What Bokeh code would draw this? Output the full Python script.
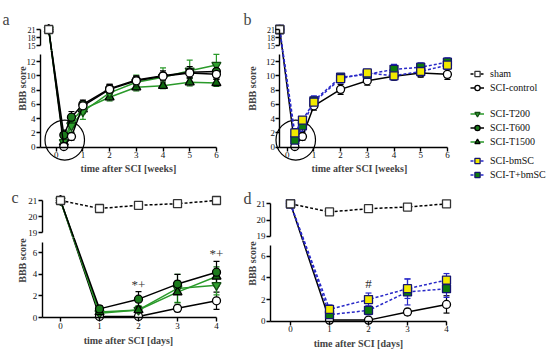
import math
from bokeh.plotting import figure
from bokeh.layouts import row, column
from bokeh.models import Range1d, ColumnDataSource, Whisker, TeeHead, Label, Legend, LegendItem
from bokeh.core.properties import value
from bokeh.embed import file_html
from bokeh.resources import INLINE

FONT = "Liberation Serif"

# ---------------- data ----------------
weeks = [-0.28, 2 / 7, 4 / 7, 1, 2, 3, 4, 5, 6]
days = [0, 1, 2, 3, 4]
week_ticks = [0, 1, 2, 3, 4, 5, 6]
day_ticks = [0, 1, 2, 3, 4]
ab_low_ticks = [0, 2, 4, 6, 8, 10, 12]
ab_high_ticks = [15, 18, 21]
cd_low_ticks = [0, 2, 4, 6]
cd_high_ticks = [19, 20, 21]

sham_week = [21]
sham_week_err = [0]
a_control = [21, 0.1, 1.5, 5.8, 8.1, 9.3, 9.95, 10.4, 10.2]
a_control_err = [0, 0.1, 0.5, 0.6, 0.7, 0.6, 0.5, 0.6, 0.7]
a_t200 = [21, 0.7, 3.0, 5.0, 7.6, 9.1, 9.8, 10.7, 11.5]
a_t200_err = [0, 0.5, 0.9, 1.1, 0.7, 1.0, 1.3, 1.5, 1.5]
a_t600 = [21, 1.7, 4.2, 6.0, 8.2, 9.4, 10.0, 10.5, 10.6]
a_t600_err = [0, 0.7, 0.8, 0.6, 0.6, 0.6, 0.7, 0.8, 0.9]
a_t1500 = [21, 0.7, 3.7, 5.3, 7.0, 8.4, 8.6, 9.1, 9.0]
a_t1500_err = [0, 0.4, 0.8, 0.6, 0.5, 0.5, 0.4, 0.5, 0.5]

b_bmsc = [21, 2.0, 3.8, 6.3, 9.6, 10.4, 10.0, 10.6, 11.5]
b_bmsc_err = [0, 0.6, 0.5, 0.7, 0.6, 0.5, 0.6, 0.7, 0.6]
b_tbmsc = [21, 1.0, 3.0, 6.5, 9.8, 10.2, 10.9, 11.2, 11.9]
b_tbmsc_err = [0, 0.5, 0.8, 0.7, 0.5, 0.6, 0.7, 0.6, 0.6]

c_sham = [21, 20.5, 20.7, 20.8, 21]
c_sham_err = [0, 0.15, 0.12, 0.1, 0.05]
c_control = [21, 0.1, 0.1, 0.85, 1.55]
c_control_err = [0, 0.05, 0.1, 0.3, 0.8]
c_t200 = [21, 0.4, 0.7, 2.7, 3.0]
c_t200_err = [0, 0.2, 0.4, 1.3, 0.9]
c_t600 = [21, 0.8, 1.7, 3.1, 4.2]
c_t600_err = [0, 0.3, 0.7, 0.9, 1.0]
c_t1500 = [21, 0.5, 0.7, 2.35, 3.8]
c_t1500_err = [0, 0.2, 0.3, 1.0, 0.9]

d_bmsc = [21, 1.1, 2.0, 3.0, 3.8]
d_bmsc_err = [0, 0.4, 0.6, 0.9, 0.6]
d_tbmsc = [21, 0.6, 1.0, 2.7, 3.0]
d_tbmsc_err = [0, 0.3, 0.4, 1.2, 0.8]

c_sig_x = [2, 4]
c_sig_text = ["*+", "*+"]
d_sig_x = [2]
d_sig_text = ["#"]

# ---------------- styles ----------------
GREEN = "#2a9a2a"
DKGREEN = "#0f6a0f"
BLUE = "#2828c8"
STY = {
    "sham": dict(marker="square", fill="white", edge="#333333", line="black", dash="3 2", size=8, err="#333333"),
    "control": dict(marker="circle", fill="white", edge="black", line="black", dash="solid", size=8, err="black"),
    "T200": dict(marker="inverted_triangle", fill="#2fa02f", edge="#124a12", line=GREEN, dash="solid", size=9, err=GREEN),
    "T600": dict(marker="circle", fill="#1c7c1c", edge="black", line="black", dash="solid", size=8, err="black"),
    "T1500": dict(marker="triangle", fill=DKGREEN, edge="black", line=GREEN, dash="solid", size=9, err=DKGREEN),
    "bmSC": dict(marker="square", fill="#f2ea00", edge="#141470", line=BLUE, dash="3 2", size=8, err=BLUE),
    "TbmSC": dict(marker="square", fill="#0d7a0d", edge="#141470", line=BLUE, dash="3 2", size=8, err=BLUE),
}

# ---------------- geometry (page pixels) ----------------
A_X = (55.7, 26.7)
B_X = (286.7, 26.7)
C_X = (60.0, 39.0)
D_X = (290.0, 39.0)
AB_HI_Y = (21, 29.0, 16 / 6)
AB_LO_Y = (0, 146.7, 85.7 / 12)
C_HI_Y = (21, 200.0, 16.0)
C_LO_Y = (0, 317.0, 10.78)
D_HI_Y = (21, 203.3, 16.2)
D_LO_Y = (0, 320.7, 10.83)


class Seg:
    """A figure whose frame fills its whole box (l..r, t..b in page pixels)."""

    def __init__(self, l, r, t, b, xm, ym):
        self.l, self.r, self.t, self.b = l, r, t, b
        self.x0px, self.xppu = xm
        self.refv, self.refpx, self.yppu = ym

    def px(self, v):
        return self.refpx - (v - self.refv) * self.yppu

    def yv(self, px):
        return self.refv + (self.refpx - px) / self.yppu

    def xv(self, px):
        return (px - self.x0px) / self.xppu

    def make(self):
        p = figure(width=self.r - self.l, height=self.b - self.t,
                   x_range=Range1d(self.xv(self.l), self.xv(self.r)),
                   y_range=Range1d(self.yv(self.b), self.yv(self.t)),
                   output_backend="svg", toolbar_location=None, title=None,
                   min_border_left=0, min_border_right=0, min_border_top=0, min_border_bottom=0)
        p.outline_line_color = None
        p.grid.visible = False
        p.background_fill_color = "white"
        p.border_fill_color = "white"
        self.p = p
        return p


def style_axis(ax, size="9px"):
    ax.axis_line_width = 1.4
    ax.axis_line_color = "black"
    ax.major_tick_line_width = 1.4
    ax.major_tick_line_color = "black"
    ax.major_tick_in = 0
    ax.major_tick_out = 4
    ax.minor_tick_line_color = None
    ax.major_label_text_font = FONT
    ax.major_label_text_font_size = size
    ax.major_label_text_color = "#111111"
    ax.major_label_standoff = 1


def setup_pair(top, bot, yaxis_x, xmax, xticks, lo_ticks, lo_bounds, hi_ticks, hi_bounds, hi_size):
    tp, bp = top.p, bot.p
    tp.xaxis.visible = False
    tp.yaxis.fixed_location = yaxis_x
    tp.yaxis.ticker = hi_ticks
    tp.yaxis.bounds = hi_bounds
    style_axis(tp.yaxis[0], hi_size)
    bp.xaxis.fixed_location = 0
    bp.yaxis.fixed_location = yaxis_x
    bp.xaxis.ticker = xticks
    bp.yaxis.ticker = lo_ticks
    bp.xaxis.bounds = (yaxis_x, xmax)
    bp.yaxis.bounds = lo_bounds
    style_axis(bp.xaxis[0])
    style_axis(bp.yaxis[0])


def whisk(p, xs, ys, es, color):
    src = ColumnDataSource(dict(base=list(xs), upper=[y + e for y, e in zip(ys, es)],
                                lower=[y - e for y, e in zip(ys, es)]))
    w = Whisker(source=src, base="base", upper="upper", lower="lower", dimension="height",
                line_color=color, line_width=1.2,
                upper_head=TeeHead(size=6, line_color=color, line_width=1.2),
                lower_head=TeeHead(size=6, line_color=color, line_width=1.2))
    p.add_layout(w)


def draw(top, bot, xs, ys, errs, key, low_max):
    st = STY[key]
    n = len(ys)
    xs = xs[:n]
    yb = [y if y <= low_max else bot.yv(top.px(y)) for y in ys]
    yt = [y if y > low_max else top.yv(bot.px(y)) for y in ys]
    if n > 1:
        bot.p.line(xs, yb, line_color=st["line"], line_width=1.5, line_dash=st["dash"])
        top.p.line(xs, yt, line_color=st["line"], line_width=1.5, line_dash=st["dash"])
    lo = [i for i in range(n) if ys[i] <= low_max]
    hi = [i for i in range(n) if ys[i] > low_max]
    for seg, idx in ((bot, lo), (top, hi)):
        ie = [i for i in idx if errs[i] > 0]
        if ie:
            whisk(seg.p, [xs[i] for i in ie], [ys[i] for i in ie], [errs[i] for i in ie], st["err"])
    for seg, idx in ((bot, lo), (top, hi)):
        if idx:
            seg.p.scatter([xs[i] for i in idx], [ys[i] for i in idx], marker=st["marker"],
                          size=st["size"], fill_color=st["fill"], line_color=st["edge"], line_width=1.3)


def img_label(seg, x, y, text, **kw):
    seg.p.add_layout(Label(x=x - seg.l, y=seg.b - y, x_units="screen", y_units="screen",
                           text=text, text_font=FONT, **kw))


# ---------------- panels ----------------
a_top = Seg(0, 240, 0, 50, A_X, AB_HI_Y)
a_bot = Seg(0, 240, 50, 186, A_X, AB_LO_Y)
c_top = Seg(0, 240, 186, 237, C_X, C_HI_Y)
c_bot = Seg(0, 240, 237, 352, C_X, C_LO_Y)
b_top = Seg(240, 460, 0, 50, B_X, AB_HI_Y)
b_bot = Seg(240, 460, 50, 188, B_X, AB_LO_Y)
d_top = Seg(240, 460, 188, 240, D_X, D_HI_Y)
d_bot = Seg(240, 460, 240, 352, D_X, D_LO_Y)
for s in (a_top, a_bot, c_top, c_bot, b_top, b_bot, d_top, d_bot):
    s.make()

setup_pair(a_top, a_bot, a_bot.xv(40), 6, week_ticks, ab_low_ticks, (0, 13), ab_high_ticks, (15, 21), "8px")
setup_pair(b_top, b_bot, -0.27, 6, week_ticks, ab_low_ticks, (0, 13), ab_high_ticks, (15, 21), "8px")
setup_pair(c_top, c_bot, c_bot.xv(41.7), 4, day_ticks, cd_low_ticks, (0, 7), cd_high_ticks, (19, 21), "9px")
setup_pair(d_top, d_bot, d_bot.xv(270), 4, day_ticks, cd_low_ticks, (0, 7), cd_high_ticks, (19, 21), "9px")

# circles highlighting the early time points
for seg in (a_bot, b_bot):
    seg.p.ellipse(x=[0.32], y=[1.0], width=1.48, height=5.6, fill_color=None,
                  line_color="black", line_width=1.2)

# panel a
draw(a_top, a_bot, weeks, a_t1500, a_t1500_err, "T1500", 14)
draw(a_top, a_bot, weeks, a_t200, a_t200_err, "T200", 14)
draw(a_top, a_bot, weeks, a_t600, a_t600_err, "T600", 14)
draw(a_top, a_bot, weeks, a_control, a_control_err, "control", 14)
draw(a_top, a_bot, weeks, sham_week, sham_week_err, "sham", 14)

# panel b
draw(b_top, b_bot, weeks, a_control, a_control_err, "control", 14)
draw(b_top, b_bot, weeks, b_tbmsc, b_tbmsc_err, "TbmSC", 14)
draw(b_top, b_bot, weeks, b_bmsc, b_bmsc_err, "bmSC", 14)
draw(b_top, b_bot, weeks, sham_week, sham_week_err, "sham", 14)

# panel c
draw(c_top, c_bot, days, c_control, c_control_err, "control", 10)
draw(c_top, c_bot, days, c_t200, c_t200_err, "T200", 10)
draw(c_top, c_bot, days, c_t1500, c_t1500_err, "T1500", 10)
draw(c_top, c_bot, days, c_t600, c_t600_err, "T600", 10)
draw(c_top, c_bot, days, c_sham, c_sham_err, "sham", 10)

# panel d
draw(d_top, d_bot, days, c_control, c_control_err, "control", 10)
draw(d_top, d_bot, days, d_tbmsc, d_tbmsc_err, "TbmSC", 10)
draw(d_top, d_bot, days, d_bmsc, d_bmsc_err, "bmSC", 10)
draw(d_top, d_bot, days, c_sham, c_sham_err, "sham", 10)

# significance marks
c_sig_y = [c_t600[i] + c_t600_err[i] + 0.7 for i in c_sig_x]
c_bot.p.text(x=c_sig_x, y=c_sig_y, text=c_sig_text, text_font=value(FONT), text_font_size="13px",
             text_align="center", text_baseline="middle", text_color="#333333")
d_sig_y = [d_bmsc[i] + d_bmsc_err[i] + 0.9 for i in d_sig_x]
d_bot.p.text(x=d_sig_x, y=d_sig_y, text=d_sig_text, text_font=value(FONT), text_font_size="13px",
             text_align="center", text_baseline="middle", text_color="#333333")

# titles / panel letters
img_label(a_top, 2, 19, "a", text_font_size="16px", text_baseline="alphabetic")
img_label(b_top, 243, 19, "b", text_font_size="16px", text_baseline="alphabetic")
img_label(c_top, 11, 197, "c", text_font_size="16px", text_baseline="alphabetic")
img_label(d_top, 243, 198, "d", text_font_size="16px", text_baseline="alphabetic")
for seg, x, y in ((a_bot, 22, 88), (b_bot, 252, 88), (c_bot, 22, 260), (d_bot, 252, 263)):
    img_label(seg, x, y, "BBB score", text_font_size="10px", text_font_style="bold",
              angle=math.pi / 2, text_align="center", text_baseline="middle")
for seg, x, y, t in ((a_bot, 128, 168, "time after SCI [weeks]"), (b_bot, 359, 168, "time after SCI [weeks]"),
                     (c_bot, 128, 340, "time after SCI [days]"), (d_bot, 358, 343, "time after SCI [days]")):
    img_label(seg, x, y, t, text_font_size="10px", text_font_style="bold",
              text_align="center", text_baseline="middle")

# ---------------- legend ----------------
# each legend group sits in its own strip; the strip's renderers plot the real series,
# but outside the visible range, so only the legend shows
legend_groups = [
    [("sham", "sham", c_sham), ("control", "SCI-control", c_control)],
    [("T200", "SCI-T200", c_t200), ("T600", "SCI-T600", c_t600), ("T1500", "SCI-T1500", c_t1500)],
    [("bmSC", "SCI-bmSC", d_bmsc), ("TbmSC", "SCI-T+bmSC", d_tbmsc)],
]
strip_box = [(0, 100), (100, 150), (150, 352)]   # page y extent of each strip
legend_top = [67, 107, 154]                      # page y of each legend's top edge
strips = []
for group, (st_t, st_b), lt in zip(legend_groups, strip_box, legend_top):
    f = figure(width=88, height=st_b - st_t, x_range=Range1d(-100, -99), y_range=Range1d(-100, -99),
               output_backend="svg", toolbar_location=None, title=None,
               x_axis_location=None, y_axis_location=None,
               min_border_left=10, min_border_right=0, min_border_top=lt - st_t, min_border_bottom=0)
    f.outline_line_color = None
    f.grid.visible = False
    items = []
    for key, lab, ser in group:
        st = STY[key]
        ln = f.line(days, ser, line_color=st["line"], line_width=1.5, line_dash=st["dash"])
        sc = f.scatter(days, ser, marker=st["marker"], size=st["size"], fill_color=st["fill"],
                       line_color=st["edge"], line_width=1.3)
        items.append(LegendItem(label=lab, renderers=[ln, sc]))
    lg = Legend(items=items, location="top_left", glyph_width=14, glyph_height=13, label_height=13,
                spacing=1, padding=0, margin=0, border_line_color=None, background_fill_alpha=0,
                label_text_font=FONT, label_text_font_size="10px", label_text_color="#111111",
                label_standoff=6)
    f.add_layout(lg)
    strips.append(f)

layout = row(column(a_top.p, a_bot.p, c_top.p, c_bot.p),
             column(b_top.p, b_bot.p, d_top.p, d_bot.p),
             column(*strips))

open("out.html", "w").write(file_html(layout, INLINE))
